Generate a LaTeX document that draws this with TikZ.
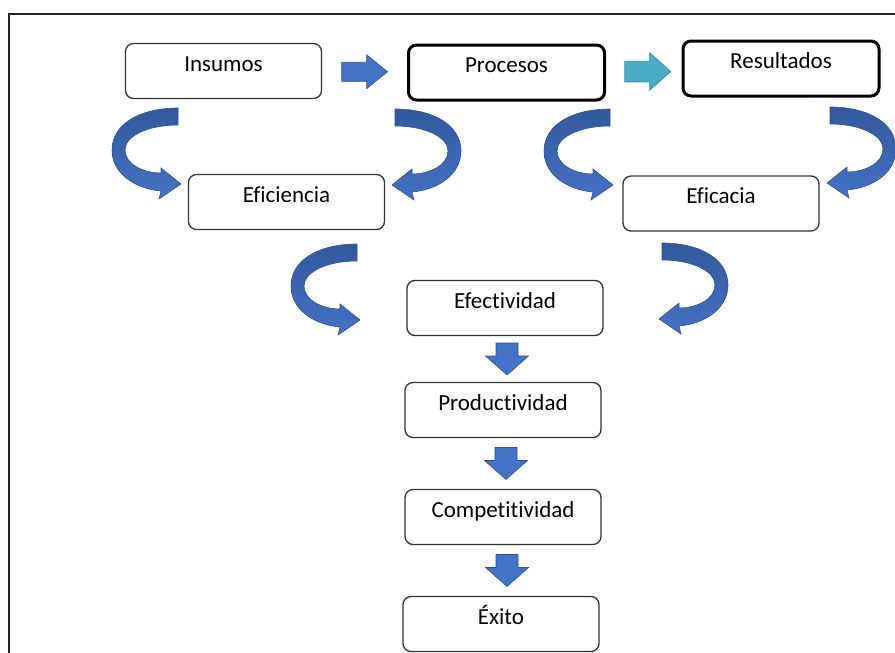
\documentclass[tikz,border=0pt]{standalone}
\usepackage{fontspec}
\setmainfont{Carlito}[Ligatures=NoCommon]
\usetikzlibrary{calc}

\definecolor{azulflecha}{RGB}{68,114,196}
\definecolor{azuloscuro}{RGB}{50,88,158}
\definecolor{azulborde}{RGB}{47,82,143}
\definecolor{turquesa}{RGB}{75,172,198}
\definecolor{turqborde}{RGB}{49,133,155}

\tikzset{
  caja/.style={draw=black!80, line width=1.3pt, rounded corners=8pt,
    minimum width=196pt, minimum height=55pt,
    text height=8pt, text depth=8pt, font=\fontsize{23}{27}\selectfont},
  cajagruesa/.style={caja, draw=black, line width=3pt},
  cinta/.style={draw=azulborde, line width=0.6pt,
    top color=azuloscuro, bottom color=azulflecha},
  pics/flechader/.style={code={
    \path[pic actions] (-23,-9.5) -- (2,-9.5) -- (2,-17) -- (23,0)
      -- (2,17) -- (2,9.5) -- (-23,9.5) -- cycle;}},
  pics/flechaabajo/.style={code={
    \path[pic actions] (-11,-16) -- (11,-16) -- (11,-3) -- (21.5,-3)
      -- (0,16) -- (-21.5,-3) -- (-11,-3) -- cycle;}},
  pics/curva/.style={code={
    \path[cinta] (0,0) -- (0,17)
      .. controls (-30,17) and (-53,28) .. (-53,42)
      .. controls (-53,56) and (-35,65) .. (-17,65)
      -- (-17,60) -- (3,76) -- (-19,91) -- (-17,83)
      .. controls (-42,81) and (-66,66) .. (-66,42)
      .. controls (-66,16) and (-38,0) .. (0,0) -- cycle;}}
}

\begin{document}
\begin{tikzpicture}[x=1pt, y=-1pt]
  \useasboundingbox (0,0) rectangle (895,653);
  % marco
  \draw[line width=2pt, black!85] (9,653) -- (9,14) -- (895,14);

  % cajas
  \node[caja] (insumos) at (223.5,71) {Insumos};
  \node[cajagruesa] (procesos) at (506.5,72.5) {Procesos};
  \node[cajagruesa] (resultados) at (781,68.5) {Resultados};
  \node[caja] (eficiencia) at (286.5,202) {Eficiencia};
  \node[caja] (eficacia) at (721,203.5) {Eficacia};
  \node[caja] (efectividad) at (505,308) {Efectividad};
  \node[caja] (productividad) at (503,410) {Productividad};
  \node[caja] (competitividad) at (503,517) {Competitividad};
  \node[caja] (exito) at (501,624) {Éxito};

  % flechas rectas
  \pic[fill=azulflecha, draw=azulborde, line width=0.6pt]
    at ($(insumos.east)!0.5!(procesos.west)$) {flechader};
  \pic[fill=turquesa, draw=turqborde, line width=0.6pt, yscale=1.1]
    at ($(procesos.east)!0.5!(resultados.west)+(4,1)$) {flechader};
  \pic[fill=azulflecha, draw=azulborde, line width=0.6pt]
    at ($(efectividad.south)!0.5!(productividad.north)+(3,0)$) {flechaabajo};
  \pic[fill=azulflecha, draw=azulborde, line width=0.6pt]
    at ($(productividad.south)!0.5!(competitividad.north)+(3,0)$) {flechaabajo};
  \pic[fill=azulflecha, draw=azulborde, line width=0.6pt]
    at ($(competitividad.south)!0.5!(exito.north)+(5,0)$) {flechaabajo};

  % flechas curvas
  \pic at (178,108) {curva};
  \pic[xscale=-1] at (395,109) {curva};
  \pic at (610,109) {curva};
  \pic[xscale=-1] at (830,107) {curva};
  \pic at (357,244) {curva};
  \pic[xscale=-1] at (662,243) {curva};
\end{tikzpicture}
\end{document}
